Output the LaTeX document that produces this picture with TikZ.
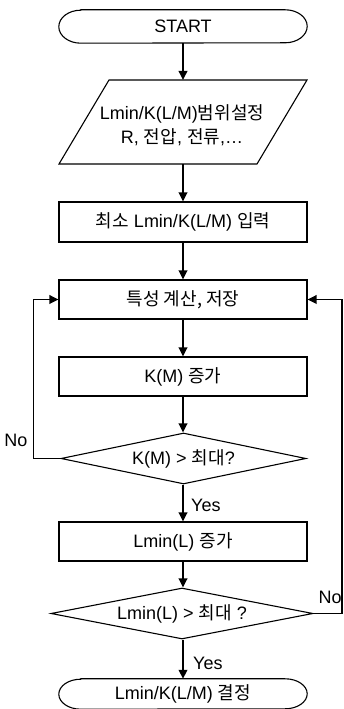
\documentclass[tikz,border=0pt]{standalone}
\usepackage{fontspec}
\setmainfont{Liberation Sans}
\newfontfamily\kr{Noto Sans CJK KR}
\usetikzlibrary{arrows.meta,shapes.geometric,calc}
\begin{document}
\begin{tikzpicture}[x=1pt,y=1pt,
  txt/.style={font=\fontsize{18}{24}\selectfont},
  box/.style={txt,draw,line width=1.1pt,minimum width=248pt,minimum height=39pt,inner sep=0pt},
  dec/.style={txt,draw,diamond,line width=1.1pt,inner sep=0pt,aspect=5},
  term/.style={txt,minimum width=248pt,inner sep=0pt},
  outline/.style={line width=1.1pt},
  arr/.style={line width=1.9pt,-{Triangle[length=9pt,width=8.5pt]}},
  lab/.style={txt,inner sep=0pt}]
\useasboundingbox (0,0) rectangle (343,709);

% START
\node[term,minimum height=33pt] (s) at (183,682.5) {START};
\draw[outline] ($(s.north west)+(22,0)$) -- ($(s.north east)+(-22,0)$)
  arc[start angle=90,end angle=-90,x radius=22,y radius=16.5]
  -- ($(s.south west)+(22,0)$)
  arc[start angle=270,end angle=90,x radius=22,y radius=16.5] -- cycle;

% parallelogram
\coordinate (ptop) at (183,629);
\coordinate (pbot) at (183,545);
\draw[outline] (109,629) -- (307,629) -- (257,545) -- (59,545) -- cycle;
\node[txt,align=center,inner sep=0pt] (p) at (182,584) {Lmin/K(L/M){\kr 범위설정}\\R, {\kr 전압}, {\kr 전류},…};

% boxes
\node[box,minimum height=40pt] (b1) at (183,487) {{\kr 최소} Lmin/K(L/M) {\kr 입력}};
\node[box] (b2) at (183,409.5) {{\kr 특성 계산, 저장}};
\node[box] (b3) at (183,332.5) {K(M) {\kr 증가}};
\node[dec,minimum width=245pt,minimum height=51pt] (d1) at (183.5,250.5) {K(M) > {\kr 최대}?};
\node[box] (b4) at (183,167.5) {Lmin(L) {\kr 증가}};
\node[dec,minimum width=262pt,minimum height=51pt] (d2) at (182,95.5) {Lmin(L) > {\kr 최대} ?};

% END
\node[term,minimum height=30pt] (e) at (183,15) {Lmin/K(L/M) {\kr 결정}};
\draw[outline] ($(e.north west)+(22,0)$) -- ($(e.north east)+(-22,0)$)
  arc[start angle=90,end angle=-90,x radius=22,y radius=15]
  -- ($(e.south west)+(22,0)$)
  arc[start angle=270,end angle=90,x radius=22,y radius=15] -- cycle;

% connectors
\draw[arr] (s.south) -- (ptop);
\draw[arr] (pbot) -- (b1.north);
\draw[arr] (b1.south) -- (b2.north);
\draw[arr] (b2.south) -- (b3.north);
\draw[arr] (b3.south) -- (b3.south |- d1.north);
\draw[arr] (b3.south |- d1.south) -- (b4.north);
\draw[arr] (b4.south) -- (b4.south |- d2.north);
\draw[arr] (b4.south |- d2.south) -- (e.north);
\draw[arr] (d1.west) -- ++(-27,0) |- (b2.west);
\draw[arr] (d2.east) -- ++(28,0) |- (b2.east);

% labels
\node[lab] (no1) at (16,269) {No};
\node[lab,anchor=west] (no2) at (318.5,112) {No};
\node[lab,anchor=west] (y1) at (191,204) {Yes};
\node[lab,anchor=west] (y2) at (193,46) {Yes};
\end{tikzpicture}
\end{document}
